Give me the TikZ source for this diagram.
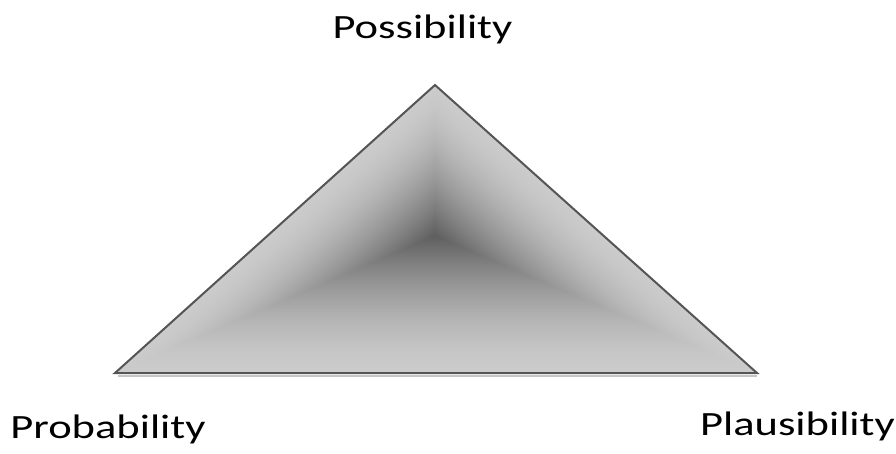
\documentclass[tikz,border=0pt]{standalone}
\usepackage{fontspec}
\setmainfont{Carlito}
\usetikzlibrary{calc}
\definecolor{edgelight}{RGB}{203,203,203}
\definecolor{coredark}{RGB}{94,94,94}
\definecolor{rim}{RGB}{85,85,85}
\tikzset{
  lbl/.style={font=\fontsize{34}{40}\selectfont, text=black, inner sep=0pt, anchor=base, xscale=1.31},
}
\begin{document}
\begin{tikzpicture}[x=1pt,y=-1pt]
\useasboundingbox (0,0) rectangle (896,453);
\coordinate (A) at (435,85);
\coordinate (L) at (115,373);
\coordinate (R) at (757,373);
\coordinate (O) at (435,236);
% shadow under base
\draw[gray!45, line width=2pt] (118,376) -- (757,376);
% path-gradient style fill
\foreach \i in {0,...,100}{
  \pgfmathsetmacro\s{1-\i/100}
  \pgfmathsetmacro\p{100*(1-(1-\s)^1.6)}
  \fill[edgelight!\p!coredark] ($(O)!\s!(A)$) -- ($(O)!\s!(L)$) -- ($(O)!\s!(R)$) -- cycle;
}
\draw[rim, line width=2pt, line join=miter] (A) -- (L) -- (R) -- cycle;
\node[lbl] (pos) at (422.5,38) {Possibility};
\node[lbl] (prob) at (108,438) {Probability};
\node[lbl] (plau) at (797.5,435) {Plausibility};
\end{tikzpicture}
\end{document}
